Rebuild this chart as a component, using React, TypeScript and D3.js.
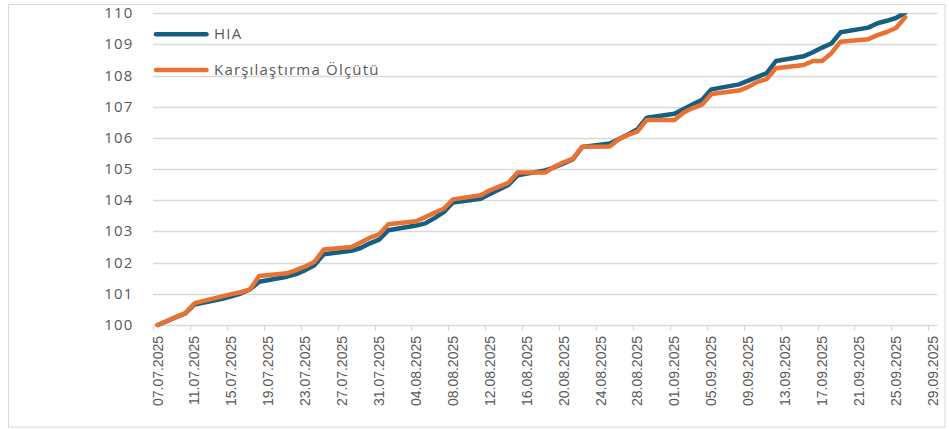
import { useEffect, useRef } from "react"
import * as d3 from "d3"

// business days, dd.mm.yyyy
const dates = [
  "07.07.2025", "08.07.2025", "09.07.2025", "10.07.2025", "11.07.2025",
  "14.07.2025", "15.07.2025", "16.07.2025", "17.07.2025", "18.07.2025",
  "21.07.2025", "22.07.2025", "23.07.2025", "24.07.2025", "25.07.2025",
  "28.07.2025", "29.07.2025", "30.07.2025", "31.07.2025", "01.08.2025",
  "04.08.2025", "05.08.2025", "06.08.2025", "07.08.2025", "08.08.2025",
  "11.08.2025", "12.08.2025", "13.08.2025", "14.08.2025", "15.08.2025",
  "18.08.2025", "19.08.2025", "20.08.2025", "21.08.2025", "22.08.2025",
  "25.08.2025", "26.08.2025", "27.08.2025", "28.08.2025", "29.08.2025",
  "01.09.2025", "02.09.2025", "03.09.2025", "04.09.2025", "05.09.2025",
  "08.09.2025", "09.09.2025", "10.09.2025", "11.09.2025", "12.09.2025",
  "15.09.2025", "16.09.2025", "17.09.2025", "18.09.2025", "19.09.2025",
  "22.09.2025", "23.09.2025", "24.09.2025", "25.09.2025", "26.09.2025",
]

const hiaValues = [
  100.0, 100.12, 100.25, 100.37, 100.66,
  100.84, 100.92, 101.01, 101.14, 101.39,
  101.55, 101.63, 101.76, 101.92, 102.27,
  102.38, 102.47, 102.62, 102.74, 103.04,
  103.19, 103.26, 103.43, 103.62, 103.93,
  104.05, 104.2, 104.35, 104.49, 104.8,
  104.96, 105.06, 105.18, 105.32, 105.71,
  105.82, 105.97, 106.12, 106.28, 106.65,
  106.78, 106.93, 107.08, 107.23, 107.56,
  107.72, 107.84, 107.96, 108.08, 108.47,
  108.62, 108.75, 108.9, 109.03, 109.39,
  109.54, 109.68, 109.76, 109.85, 110.02,
]

const benchmarkValues = [
  100.0, 100.13, 100.26, 100.38, 100.7,
  100.92, 100.99, 101.05, 101.14, 101.57,
  101.66, 101.76, 101.88, 102.03, 102.42,
  102.5, 102.65, 102.8, 102.91, 103.23,
  103.33, 103.46, 103.6, 103.73, 104.03,
  104.16, 104.32, 104.44, 104.56, 104.89,
  104.89, 105.08, 105.22, 105.34, 105.72,
  105.73, 105.97, 106.1, 106.21, 106.58,
  106.58, 106.82, 106.96, 107.07, 107.41,
  107.52, 107.64, 107.8, 107.89, 108.24,
  108.34, 108.47, 108.47, 108.72, 109.09,
  109.17, 109.3, 109.4, 109.53, 109.87,
]

const seriesNames = ["HIA", "Karşılaştırma Ölçütü"]
const seriesColors = ["#156082", "#E97132"]

const yTicks = [100, 101, 102, 103, 104, 105, 106, 107, 108, 109, 110]

const xTickLabels = [
  "07.07.2025", "11.07.2025", "15.07.2025", "19.07.2025", "23.07.2025",
  "27.07.2025", "31.07.2025", "04.08.2025", "08.08.2025", "12.08.2025",
  "16.08.2025", "20.08.2025", "24.08.2025", "28.08.2025", "01.09.2025",
  "05.09.2025", "09.09.2025", "13.09.2025", "17.09.2025", "21.09.2025",
  "25.09.2025", "29.09.2025",
]

const axisStart = "07.07.2025"
const axisEnd = "30.09.2025"

export default function App() {
  const svgRef = useRef<SVGSVGElement>(null)

  useEffect(() => {
    if (!svgRef.current) return
    document.body.style.margin = "0"

    const svg = d3.select(svgRef.current)
    svg.selectAll("*").remove()

    const width = 949
    const height = 429
    const plot = { left: 153, right: 937.5, top: 13.3, bottom: 325 }
    const parse = d3.timeParse("%d.%m.%Y")
    const textColor = "#595959"
    const gridColor = "#D9D9D9"

    // outer chart border
    svg
      .append("rect")
      .attr("x", 8.5)
      .attr("y", 4.5)
      .attr("width", 936.5)
      .attr("height", 422.5)
      .attr("fill", "#fff")
      .attr("stroke", gridColor)
      .attr("stroke-width", 1)

    const xScale = d3
      .scaleTime()
      .domain([parse(axisStart) as Date, parse(axisEnd) as Date])
      .range([plot.left, plot.right])

    const yScale = d3.scaleLinear().domain([100, 110]).range([plot.bottom, plot.top])

    // points sit in the middle of their day slot
    const halfDay = (xScale(parse("08.07.2025") as Date) - xScale(parse("07.07.2025") as Date)) / 2

    // grid lines
    svg
      .append("g")
      .selectAll("line")
      .data(yTicks)
      .enter()
      .append("line")
      .attr("x1", plot.left)
      .attr("x2", plot.right)
      .attr("y1", (d) => Math.round(yScale(d)) + 0.5)
      .attr("y2", (d) => Math.round(yScale(d)) + 0.5)
      .attr("stroke", gridColor)
      .attr("stroke-width", 1.3)

    // y labels
    svg
      .append("g")
      .selectAll("text")
      .data(yTicks)
      .enter()
      .append("text")
      .attr("x", 133.5)
      .attr("y", (d) => yScale(d) + 5)
      .attr("text-anchor", "end")
      .attr("font-family", "'Open Sans', sans-serif")
      .attr("font-size", 15)
      .attr("letter-spacing", 1.2)
      .attr("fill", textColor)
      .text((d) => String(d))

    // x ticks and labels
    const tickDates = xTickLabels.map((s) => parse(s) as Date)
    const xAxis = svg.append("g")
    xAxis
      .selectAll("line")
      .data(tickDates)
      .enter()
      .append("line")
      .attr("x1", (d) => Math.round(xScale(d)) + 0.5)
      .attr("x2", (d) => Math.round(xScale(d)) + 0.5)
      .attr("y1", plot.bottom)
      .attr("y2", plot.bottom + 6)
      .attr("stroke", gridColor)
      .attr("stroke-width", 1.3)

    xAxis
      .selectAll("text")
      .data(xTickLabels)
      .enter()
      .append("text")
      .attr("transform", (d) => `translate(${xScale(parse(d) as Date) + halfDay}, 336) rotate(-90)`)
      .attr("dy", "0.35em")
      .attr("text-anchor", "end")
      .attr("font-family", "'Liberation Sans', Arial, sans-serif")
      .attr("font-size", 14)
      .attr("fill", textColor)
      .text((d) => d)

    // clip to plot area
    svg
      .append("clipPath")
      .attr("id", "plot-clip")
      .append("rect")
      .attr("x", plot.left)
      .attr("y", plot.top)
      .attr("width", plot.right - plot.left)
      .attr("height", plot.bottom - plot.top + 10)

    const parsedDates = dates.map((s) => parse(s) as Date)
    const line = d3
      .line<number>()
      .x((_, i) => xScale(parsedDates[i]) + halfDay)
      .y((d) => yScale(d))

    const seriesValues = [hiaValues, benchmarkValues]
    const lines = svg.append("g").attr("clip-path", "url(#plot-clip)")
    seriesValues.forEach((values, i) => {
      lines
        .append("path")
        .datum(values)
        .attr("d", line)
        .attr("fill", "none")
        .attr("stroke", seriesColors[i])
        .attr("stroke-width", 4.5)
        .attr("stroke-linejoin", "round")
        .attr("stroke-linecap", "round")
    })

    // legend
    const legend = svg.append("g")
    seriesNames.forEach((name, i) => {
      const y = 34.3 + i * 35.7
      legend
        .append("line")
        .attr("x1", 156)
        .attr("x2", 206.5)
        .attr("y1", y)
        .attr("y2", y)
        .attr("stroke", seriesColors[i])
        .attr("stroke-width", 4.5)
        .attr("stroke-linecap", "round")
      legend
        .append("text")
        .attr("x", 214)
        .attr("y", y + 5)
        .attr("font-family", "'Open Sans', sans-serif")
        .attr("font-size", 15)
        .attr("letter-spacing", 1.2)
        .attr("fill", textColor)
        .text(name)
    })
  }, [])

  return <svg ref={svgRef} width={949} height={429} style={{ display: "block" }} />
}
